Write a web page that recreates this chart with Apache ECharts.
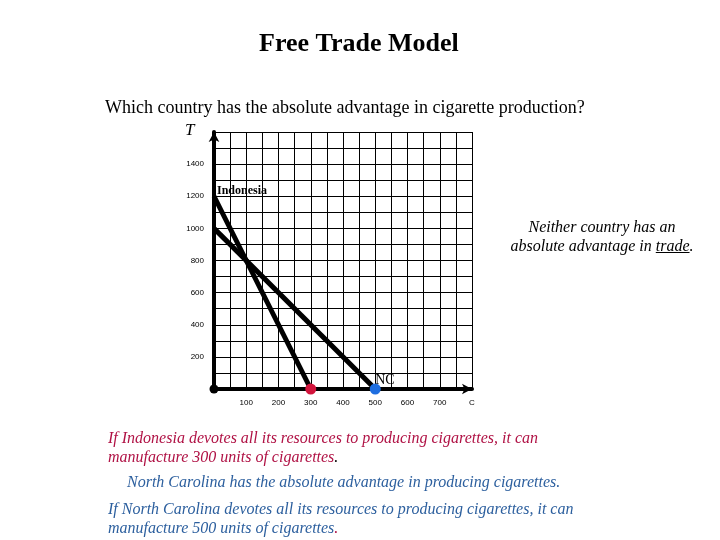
<!DOCTYPE html>
<html lang="en">
<head>
    <meta charset="UTF-8">
    <title>Free Trade Model</title>
    <script src="https://cdnjs.cloudflare.com/ajax/libs/echarts/6.0.0/echarts.min.js"></script>
    <style>
        body { margin: 0; padding: 0; background: #fff; }
        #main { width: 720px; height: 540px; }
    </style>
</head>
<body>
    <div id="main"></div>
    <script>
        // production possibilities: [cigarettes, trade]
        const indonesiaLine = [[0, 1200], [300, 0]];
        const ncLine = [[0, 1000], [500, 0]];
        const indonesiaMax = [300, 0];
        const ncMax = [500, 0];
        const origin = [0, 0];
        const xTickLabels = ['100', '200', '300', '400', '500', '600', '700'];
        const yTickLabels = ['200', '400', '600', '800', '1000', '1200', '1400'];

        const serif = '"Liberation Serif", "DejaVu Serif", serif';
        const red = '#b01245';
        const blue = '#2c5f9e';
        const noteFont = 'italic 16px ' + serif;

        // where "trade" sits in the centred second line, for its underline
        const ctx = document.createElement('canvas').getContext('2d');
        ctx.font = noteFont;
        const noteX = 602;
        const line2 = 'absolute advantage in trade.';
        const line2Left = noteX - ctx.measureText(line2).width / 2;
        const tradeX1 = line2Left + ctx.measureText('absolute advantage in ').width;
        const tradeX2 = tradeX1 + ctx.measureText('trade').width;

        const chart = echarts.init(document.getElementById('main'));
        const option = {
            animation: false,
            title: [
                { text: 'Free Trade Model', left: 254, top: 26,
                  textStyle: { fontFamily: serif, fontSize: 26, fontWeight: 'bold', color: '#000' } },
                { text: 'Which country has the absolute advantage in cigarette production?', left: 100, top: 94,
                  textStyle: { fontFamily: serif, fontSize: 18, fontWeight: 'normal', color: '#000' } }
            ],
            grid: { left: 214, top: 132, right: 248, bottom: 151 },
            xAxis: {
                type: 'value', min: 0, max: 800, interval: 50,
                axisLine: { lineStyle: { color: '#000', width: 4 }, symbol: ['none', 'arrow'], symbolSize: [8, 10] },
                axisTick: { show: false },
                splitLine: { lineStyle: { color: '#000', width: 1 } },
                axisLabel: {
                    margin: 10, fontSize: 8, color: '#000', fontFamily: 'Arial, sans-serif',
                    formatter: v => v === 800 ? 'C' : (xTickLabels.includes(String(v)) ? String(v) : '')
                }
            },
            yAxis: {
                type: 'value', min: 0, max: 1600, interval: 100,
                axisLine: { lineStyle: { color: '#000', width: 4 }, symbol: ['none', 'arrow'], symbolSize: [8, 10] },
                axisTick: { show: false },
                splitLine: { lineStyle: { color: '#000', width: 1 } },
                axisLabel: {
                    margin: 10, fontSize: 8, color: '#000', fontFamily: 'Arial, sans-serif',
                    formatter: v => yTickLabels.includes(String(v)) ? String(v) : ''
                }
            },
            series: [
                { type: 'line', data: indonesiaLine, showSymbol: false, lineStyle: { color: '#000', width: 5 } },
                { type: 'line', data: ncLine, showSymbol: false, lineStyle: { color: '#000', width: 5 } },
                { type: 'scatter', data: [origin], symbolSize: 9, itemStyle: { color: '#000', opacity: 1 }, z: 5 },
                { type: 'scatter', data: [indonesiaMax], symbolSize: 11, itemStyle: { color: '#d2143c', opacity: 1 }, z: 5 },
                { type: 'scatter', data: [ncMax], symbolSize: 11, itemStyle: { color: '#1e6ee0', opacity: 1 }, z: 5 },
                { type: 'scatter', data: [indonesiaLine[0]], symbolSize: 0, z: 6, itemStyle: { opacity: 1 },
                  label: { show: true, formatter: 'Indonesia', position: [3, -11],
                           fontFamily: serif, fontSize: 12, fontWeight: 'bold', color: '#000' } },
                { type: 'scatter', data: [ncMax], symbolSize: 0, z: 6, itemStyle: { opacity: 1 },
                  label: { show: true, formatter: 'NC', position: [0, -16],
                           fontFamily: serif, fontSize: 14, color: '#000' } }
            ],
            graphic: [
                { type: 'text', left: 185, top: 122,
                  style: { text: 'T', font: 'italic 17px ' + serif, fill: '#000' } },
                { type: 'text', x: noteX, y: 218,
                  style: { text: 'Neither country has an\n' + line2, font: noteFont,
                           fill: '#000', align: 'center', lineHeight: 19 } },
                { type: 'line', shape: { x1: tradeX1, y1: 252.5, x2: tradeX2, y2: 252.5 }, style: { stroke: '#000', lineWidth: 1 } },
                { type: 'text', left: 108, top: 431,
                  style: { text: '{r|If Indonesia devotes all its resources to producing cigarettes, it can}\n{r|manufacture 300 units of cigarettes}{k|.}',
                           rich: { r: { font: noteFont, fill: red, lineHeight: 19 },
                                   k: { font: noteFont, fill: '#000', lineHeight: 19 } } } },
                { type: 'text', left: 127, top: 475,
                  style: { text: 'North Carolina has the absolute advantage in producing cigarettes.', font: noteFont, fill: blue } },
                { type: 'text', left: 108, top: 502,
                  style: { text: '{b|If North Carolina devotes all its resources to producing cigarettes, it can}\n{b|manufacture 500 units of cigarettes}{r|.}',
                           rich: { b: { font: noteFont, fill: blue, lineHeight: 19 },
                                   r: { font: noteFont, fill: red, lineHeight: 19 } } } }
            ]
        };
        chart.setOption(option);
    </script>
</body>
</html>
